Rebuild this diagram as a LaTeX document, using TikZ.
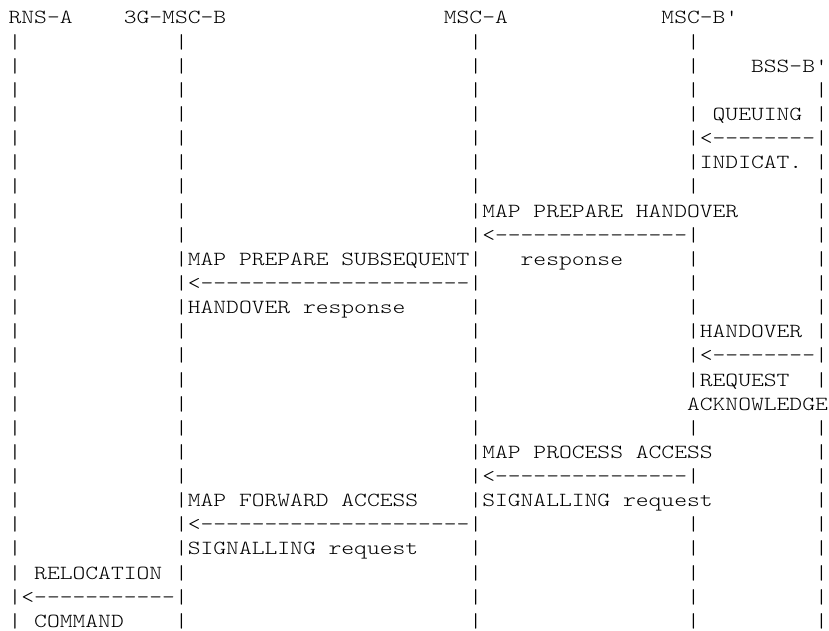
\documentclass[tikz,border=0pt]{standalone}
\usepackage{fontspec}
\setmonofont{lmmonolt10-regular.otf}[FakeStretch=1.2192]
\newlength\mychar
\newcommand\bl[1]{\hspace*{#1\mychar}}
\newcommand\asc[2]{\node[asciiline] (l#1) at (6.45,{-18-18.1*(#1-1)}) {#2};}
\begin{document}
\settowidth{\mychar}{\ttfamily\fontsize{15}{18}\selectfont M}
\begin{tikzpicture}[x=1pt,y=1pt,
  asciiline/.style={anchor=base west, inner sep=0pt, outer sep=0pt, text=black,
    font=\ttfamily\fontsize{15}{18}\selectfont}]
\fill[white] (0,0) rectangle (621.75,-473.25);
\useasboundingbox (0,0) rectangle (621.75,-473.25);
\asc{1}{RNS-A\bl{4}3G-MSC-B\bl{17}MSC-A\bl{12}MSC-B'}
\asc{2}{|\bl{12}|\bl{22}|\bl{16}|}
\asc{3}{|\bl{12}|\bl{22}|\bl{16}|\bl{4}BSS-B'}
\asc{4}{|\bl{12}|\bl{22}|\bl{16}|\bl{9}|}
\asc{5}{|\bl{12}|\bl{22}|\bl{16}|\bl{1}QUEUING\bl{1}|}
\asc{6}{|\bl{12}|\bl{22}|\bl{16}|<--------|}
\asc{7}{|\bl{12}|\bl{22}|\bl{16}|INDICAT.\bl{1}|}
\asc{8}{|\bl{12}|\bl{22}|\bl{16}|\bl{9}|}
\asc{9}{|\bl{12}|\bl{22}|MAP\bl{1}PREPARE\bl{1}HANDOVER\bl{6}|}
\asc{10}{|\bl{12}|\bl{22}|<---------------|\bl{9}|}
\asc{11}{|\bl{12}|MAP\bl{1}PREPARE\bl{1}SUBSEQUENT|\bl{3}response\bl{5}|\bl{9}|}
\asc{12}{|\bl{12}|<---------------------|\bl{16}|\bl{9}|}
\asc{13}{|\bl{12}|HANDOVER\bl{1}response\bl{5}|\bl{16}|\bl{9}|}
\asc{14}{|\bl{12}|\bl{22}|\bl{16}|HANDOVER\bl{1}|}
\asc{15}{|\bl{12}|\bl{22}|\bl{16}|<--------|}
\asc{16}{|\bl{12}|\bl{22}|\bl{16}|REQUEST\bl{2}|}
\asc{17}{|\bl{12}|\bl{22}|\bl{16}ACKNOWLEDGE}
\asc{18}{|\bl{12}|\bl{22}|\bl{16}|\bl{9}|}
\asc{19}{|\bl{12}|\bl{22}|MAP\bl{1}PROCESS\bl{1}ACCESS\bl{8}|}
\asc{20}{|\bl{12}|\bl{22}|<---------------|\bl{9}|}
\asc{21}{|\bl{12}|MAP\bl{1}FORWARD\bl{1}ACCESS\bl{4}|SIGNALLING\bl{1}request\bl{8}|}
\asc{22}{|\bl{12}|<---------------------|\bl{16}|\bl{9}|}
\asc{23}{|\bl{12}|SIGNALLING\bl{1}request\bl{4}|\bl{16}|\bl{9}|}
\asc{24}{|\bl{1}RELOCATION\bl{1}|\bl{22}|\bl{16}|\bl{9}|}
\asc{25}{|<-----------|\bl{22}|\bl{16}|\bl{9}|}
\asc{26}{|\bl{1}COMMAND\bl{4}|\bl{22}|\bl{16}|\bl{9}|}
\end{tikzpicture}
\end{document}
